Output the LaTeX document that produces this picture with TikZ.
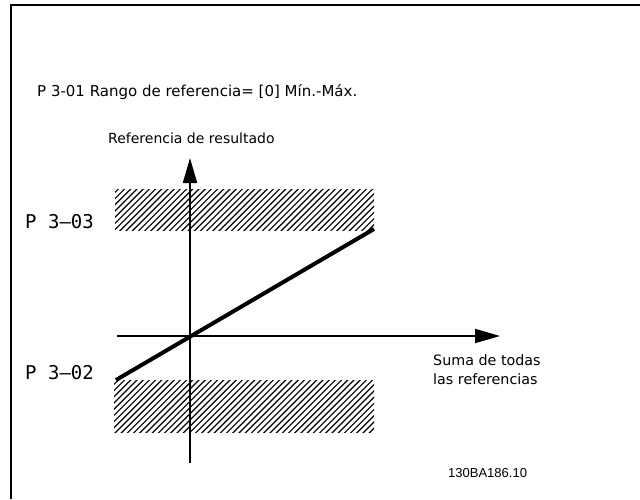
\documentclass[tikz,border=0pt]{standalone}
\usepackage{fontspec}
\setmainfont{DejaVu Sans}
\newfontfamily\monof{DejaVu Sans Mono}
\newfontfamily\codef{Liberation Sans}
\usetikzlibrary{arrows.meta}
\tikzset{
  lbl/.style={anchor=west,inner sep=0pt,font=\fontsize{14.3}{19}\selectfont},
  plbl/.style={anchor=west,inner sep=0pt,font=\monof\fontsize{19}{20}\selectfont},
  axis/.style={line width=2pt,-{Triangle[length=25pt,width=14pt]}},
  hatchline/.style={line width=1.15pt},
  curve/.style={line width=4pt}
}
\begin{document}
\begin{tikzpicture}[x=1pt,y=-1pt]
\useasboundingbox (0,0) rectangle (640,499);
% frame
\draw[line width=2pt] (11,499) -- (11,5) -- (640,5);
% hatched bands
\begin{scope}
\clip (115,189) rectangle (374,230);
\foreach \i in {0,6.2,...,320} {\draw[hatchline] (115+\i-60,230+10) -- (115+\i,230-50);}
\end{scope}
\begin{scope}
\clip (114,380) rectangle (374,432);
\foreach \i in {0,6.2,...,330} {\draw[hatchline] (114+\i-70,432+10) -- (114+\i,432-60);}
\end{scope}
% axes
\coordinate (vb) at (190,463);
\coordinate (vt) at (190,158);
\coordinate (hl) at (117,336);
\coordinate (hr) at (500,336);
\draw[axis] (vb) -- (vt);
\draw[axis] (hl) -- (hr);
% characteristic
\coordinate (c1) at (116,380);
\coordinate (c2) at (374,229);
\draw[curve] (c1) -- (c2);
% texts
\node[lbl,font=\fontsize{15}{18}\selectfont] (title) at (37,92) {P 3-01 Rango de referencia= [0] Mín.-Máx.};
\node[lbl,font=\fontsize{14}{18}\selectfont] (yl) at (108,138) {Referencia de resultado};
\node[plbl] (p303) at (25,222) {P 3–03};
\node[plbl] (p302) at (25,373) {P 3–02};
\node[lbl,align=left] (xl) at (433,370) {Suma de todas\\las referencias};
\node[anchor=west,inner sep=0pt,font=\codef\fontsize{13}{14}\selectfont] (code) at (448,473) {130BA186.10};
\end{tikzpicture}
\end{document}
